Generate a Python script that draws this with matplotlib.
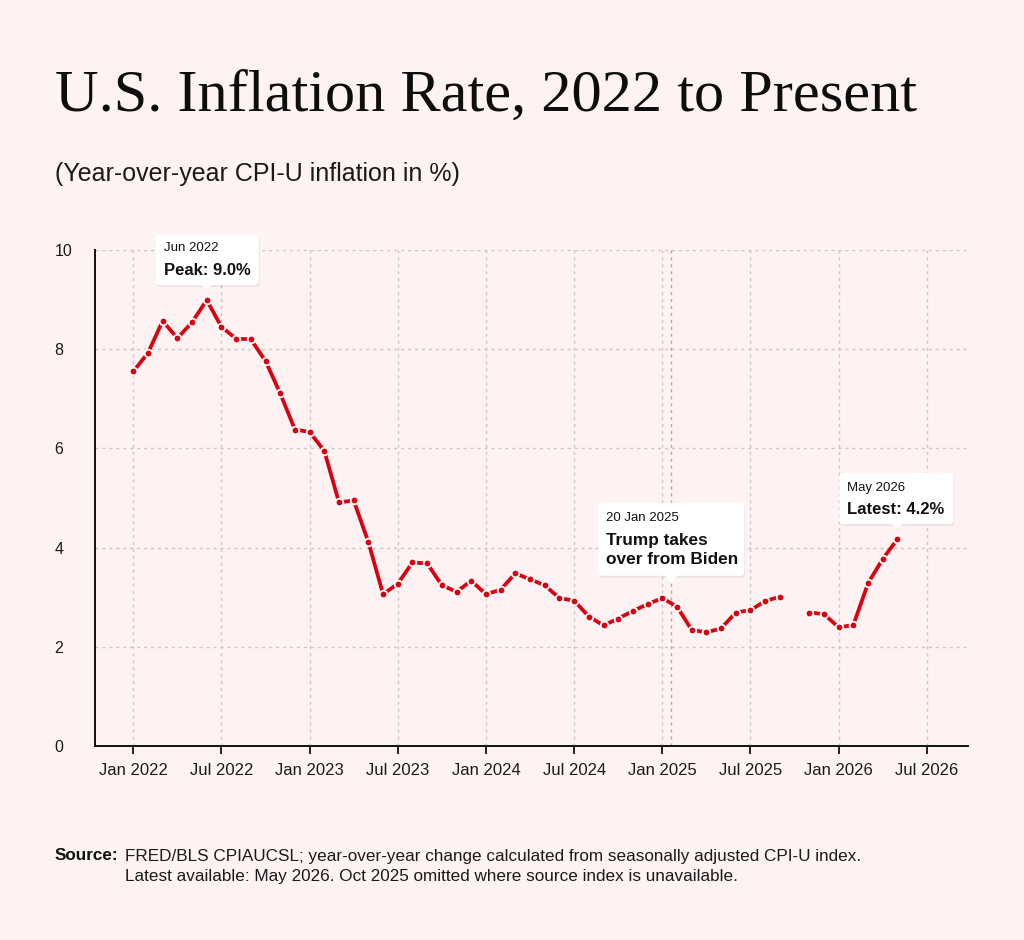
import numpy as np
import matplotlib.pyplot as plt
from matplotlib.patches import FancyBboxPatch, Polygon

plt.rcParams['font.family'] = ['Liberation Sans', 'DejaVu Sans']

# monthly YoY CPI-U inflation (%), Jan 2022 .. May 2026 (Oct 2025 missing)
values_2022 = [7.55, 7.92, 8.57, 8.22, 8.54, 8.99, 8.45, 8.21, 8.20, 7.76, 7.11, 6.38]
values_2023 = [6.33, 5.95, 4.91, 4.95, 4.11, 3.06, 3.27, 3.70, 3.68, 3.24, 3.11, 3.33]
values_2024 = [3.06, 3.15, 3.48, 3.36, 3.24, 2.98, 2.93, 2.61, 2.43, 2.57, 2.72, 2.86]
values_2025 = [2.98, 2.81, 2.34, 2.29, 2.37, 2.69, 2.74, 2.92, 3.01, np.nan, 2.69, 2.66]
values_2026 = [2.39, 2.44, 3.28, 3.77, 4.17]

tick_months = [0, 6, 12, 18, 24, 30, 36, 42, 48, 54]
tick_labels = ['Jan 2022', 'Jul 2022', 'Jan 2023', 'Jul 2023', 'Jan 2024',
               'Jul 2024', 'Jan 2025', 'Jul 2025', 'Jan 2026', 'Jul 2026']
y_ticks = [0, 2, 4, 6, 8, 10]

trump_month = 36 + 19 / 31   # 20 Jan 2025
peak_month, peak_value = 5, 8.99
latest_month, latest_value = 52, 4.17

vals = np.array(values_2022 + values_2023 + values_2024 + values_2025 + values_2026)
months = np.arange(len(vals))

bg = '#FFF2F2'
red = '#D9000F'
grid_col = '#CBC6C6'

fig = plt.figure(figsize=(10.24, 9.4), dpi=100, facecolor=bg)
ax = fig.add_axes([0.0928, 0.2064, 0.8525, 0.5277])
ax.set_facecolor(bg)

ax.set_xlim(-2.6, 56.8)
ax.set_ylim(0, 10)

for y in y_ticks[1:]:
    ax.axhline(y, color=grid_col, lw=1, ls=(0, (2.2, 2.8)), zorder=1)
for m in tick_months:
    ax.axvline(m, color=grid_col, lw=1, ls=(0, (2.2, 2.8)), zorder=1)
ax.axvline(trump_month, color='#F08A90', lw=1, ls=(0, (2.2, 2.8)), zorder=1)

ax.plot(months, vals, color=red, lw=2.7, zorder=3, solid_capstyle='butt')
ax.plot(months, vals, ls='none', marker='o', ms=5.5, mfc=red, mec='white',
        mew=1.3, zorder=4)

for s in ['top', 'right']:
    ax.spines[s].set_visible(False)
for s in ['left', 'bottom']:
    ax.spines[s].set_linewidth(1.4)
    ax.spines[s].set_color('#111111')

ax.set_xticks(tick_months)
ax.set_xticklabels(tick_labels, fontsize=12, color='#1a1a1a')
ax.tick_params(axis='x', length=6, width=1.3, pad=6, color='#111111')
ax.set_yticks(y_ticks)
ax.set_yticklabels([str(v) for v in y_ticks], fontsize=11.5, color='#1a1a1a',
                   ha='left')
ax.tick_params(axis='y', length=0, pad=29)


def callout(x, y, lines, left, right, bottom, top, tip):
    # box and pointer, sizes in pixels relative to the anchor point
    px, py = ax.transData.transform((x, y))
    shadow = FancyBboxPatch((px + left + 1, py + bottom - 2), right - left, top - bottom,
                            boxstyle='round,pad=0,rounding_size=4', transform=None,
                            fc='#000000', ec='none', alpha=0.06, zorder=5)
    box = FancyBboxPatch((px + left, py + bottom), right - left, top - bottom,
                         boxstyle='round,pad=0,rounding_size=4', transform=None,
                         fc='white', ec='none', zorder=6)
    ptr = Polygon([(px - 7, py + bottom + 1), (px + 7, py + bottom + 1), (px, py + tip)],
                  closed=True, transform=None, fc='white', ec='none', zorder=6)
    fig.patches.extend([shadow, box, ptr])
    for txt, dy, size, weight in lines:
        fig.text(px + left + 8, py + dy, txt, transform=None, fontsize=size,
                 fontweight=weight, ha='left', va='center', color='#111111',
                 zorder=7)


callout(peak_month, peak_value,
        [('Jun 2022', 52, 9.5, 'normal'), ('Peak: 9.0%', 30, 12, 'bold')],
        -51, 52, 15, 66, 11)
callout(trump_month, 3.29,
        [('20 Jan 2025', 65, 9.5, 'normal'), ('Trump takes', 42, 12.4, 'bold'),
         ('over from Biden', 23, 12.4, 'bold')],
        -73, 73, 7, 80, 0)
callout(latest_month, latest_value,
        [('May 2026', 51, 9.5, 'normal'), ('Latest: 4.2%', 30, 12, 'bold')],
        -58, 56, 15, 66, 11)

fig.text(55 / 1024, 1 - 97 / 940, 'U.S. Inflation Rate, 2022 to Present',
         family=['Liberation Serif', 'DejaVu Serif'], fontsize=43.5, color='#0d0d0d',
         ha='left', va='center')
fig.text(55 / 1024, 1 - 174 / 940, '(Year-over-year CPI-U inflation in %)',
         fontsize=18, color='#1a1a1a', ha='left', va='center')

fig.text(55 / 1024, 1 - 856 / 940, 'Source:', fontsize=12.3,
         fontweight='bold', color='#111111', ha='left', va='center')
fig.text(125 / 1024, 1 - 856 / 940,
         'FRED/BLS CPIAUCSL; year-over-year change calculated from seasonally adjusted CPI-U index.',
         fontsize=12.3, color='#1a1a1a', ha='left', va='center')
fig.text(125 / 1024, 1 - 876 / 940,
         'Latest available: May 2026. Oct 2025 omitted where source index is unavailable.',
         fontsize=12.3, color='#1a1a1a', ha='left', va='center')

fig.savefig('out.png', dpi=100, facecolor=bg)
